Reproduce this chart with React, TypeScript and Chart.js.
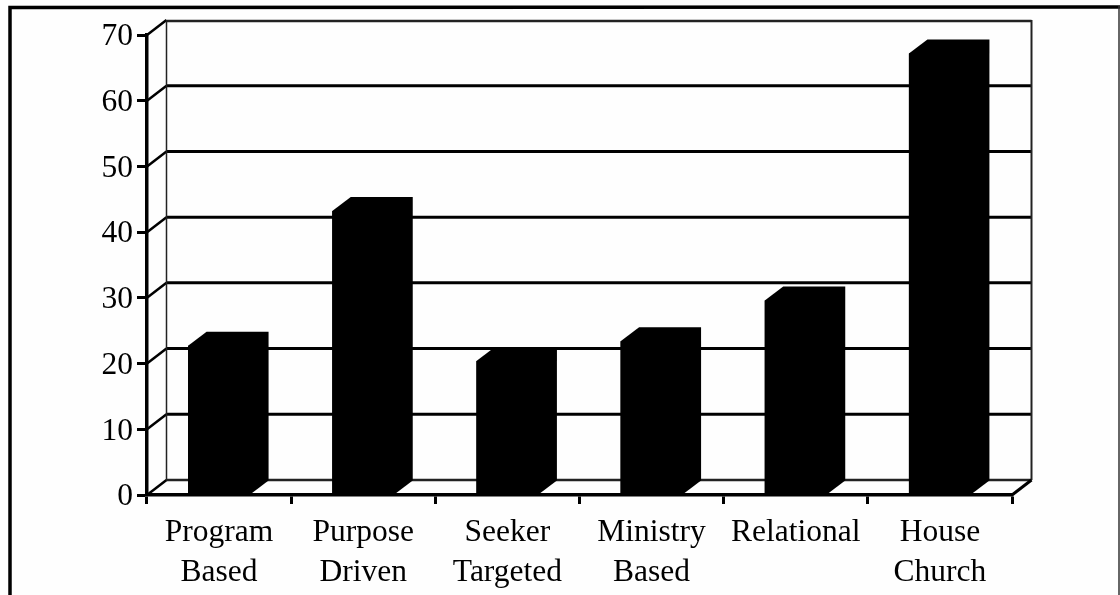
import React, { useEffect, useRef } from "react";
import { Chart, registerables } from "chart.js";

Chart.register(...registerables);

const categories: string[][] = [
  ["Program", "Based"],
  ["Purpose", "Driven"],
  ["Seeker", "Targeted"],
  ["Ministry", "Based"],
  ["Relational"],
  ["House", "Church"],
];
const values: number[] = [22.7, 43.2, 20.4, 23.4, 29.6, 67.2];
const yMin = 0;
const yMax = 70;
const yStep = 10;

const INK = "#000000";
const FONT = '"Liberation Serif", "Times New Roman", serif';
const WALL_DX = 19.5;
const WALL_DY = 15;
const BAR_DX = 18.5;
const BAR_DY = 14;

const chrome = {
  id: "chrome3d",
  beforeDraw(chart: any) {
    const { ctx, width, height, chartArea: a, scales } = chart;
    const y = scales.y;
    ctx.save();
    ctx.fillStyle = "#fefefe";
    ctx.fillRect(0, 0, width, height);

    // page frame
    ctx.strokeStyle = INK;
    ctx.lineWidth = 3.5;
    ctx.beginPath();
    ctx.moveTo(10, height);
    ctx.lineTo(10, 7.5);
    ctx.lineTo(width, 7);
    ctx.stroke();
    ctx.lineWidth = 1.5;
    ctx.strokeStyle = "#333";
    ctx.beginPath();
    ctx.moveTo(1119, 6);
    ctx.lineTo(1119, height);
    ctx.stroke();

    // back wall and floor
    const bx0 = a.left + WALL_DX;
    const bx1 = a.right + WALL_DX;
    for (let v = yMin; v <= yMax; v += yStep) {
      const py = y.getPixelForValue(v);
      const edge = v === yMin || v === yMax;
      ctx.strokeStyle = edge ? "#222" : INK;
      ctx.lineWidth = edge ? 2.5 : 3;
      ctx.beginPath();
      ctx.moveTo(bx0, py - WALL_DY + (v === yMax ? 1 : 0));
      ctx.lineTo(bx1, py - WALL_DY + (v === yMax ? 1 : 0));
      ctx.stroke();
      ctx.strokeStyle = INK;
      ctx.lineWidth = 2.5;
      ctx.beginPath();
      ctx.moveTo(a.left, py);
      ctx.lineTo(bx0, py - WALL_DY);
      ctx.stroke();
    }
    ctx.strokeStyle = "#222";
    ctx.lineWidth = 1.5;
    ctx.beginPath();
    ctx.moveTo(bx0, a.top - WALL_DY);
    ctx.lineTo(bx0, a.bottom - WALL_DY);
    ctx.stroke();
    ctx.lineWidth = 2;
    ctx.beginPath();
    ctx.moveTo(bx1, a.top - WALL_DY);
    ctx.lineTo(bx1, a.bottom - WALL_DY);
    ctx.stroke();
    ctx.strokeStyle = INK;
    ctx.lineWidth = 3;
    ctx.beginPath();
    ctx.moveTo(a.right, a.bottom);
    ctx.lineTo(bx1, a.bottom - WALL_DY);
    ctx.stroke();
    ctx.restore();
  },
  beforeDatasetsDraw(chart: any) {
    const { ctx } = chart;
    const meta = chart.getDatasetMeta(0);
    ctx.save();
    ctx.fillStyle = INK;
    meta.data.forEach((el: any) => {
      const { x, y, base, width } = el.getProps(["x", "y", "base", "width"], true);
      const l = x - width / 2;
      const r = x + width / 2;
      ctx.beginPath();
      ctx.moveTo(l, y);
      ctx.lineTo(l + BAR_DX, y - BAR_DY);
      ctx.lineTo(r + BAR_DX, y - BAR_DY);
      ctx.lineTo(r + BAR_DX, base - BAR_DY);
      ctx.lineTo(r, base);
      ctx.lineTo(l, base);
      ctx.closePath();
      ctx.fill();
    });
    ctx.restore();
  },
};

export default function App() {
  const ref = useRef<HTMLCanvasElement>(null);
  useEffect(() => {
    const chart = new Chart(ref.current as HTMLCanvasElement, {
      type: "bar",
      data: {
        labels: categories as any,
        datasets: [
          {
            data: values,
            backgroundColor: INK,
            borderWidth: 0,
            barPercentage: 0.43,
            categoryPercentage: 1,
          },
        ],
      },
      options: {
        responsive: false,
        animation: false,
        layout: { padding: { left: 0, top: 35, right: 108, bottom: 0 } },
        plugins: { legend: { display: false }, tooltip: { enabled: false } },
        scales: {
          x: {
            offset: true,
            afterFit: (s: any) => {
              s.height = 100;
            },
            grid: {
              drawOnChartArea: false,
              drawTicks: true,
              tickLength: 9,
              tickWidth: 3,
              tickColor: INK,
            },
            border: { color: INK, width: 3.5 },
            ticks: {
              color: INK,
              padding: 8,
              maxRotation: 0,
              autoSkip: false,
              font: { family: FONT, size: 31.5, lineHeight: 1.29 },
            },
          },
          y: {
            min: yMin,
            max: yMax,
            afterFit: (s: any) => {
              s.width = 147;
            },
            grid: {
              drawOnChartArea: false,
              drawTicks: true,
              tickLength: 10,
              tickWidth: 3,
              tickColor: INK,
            },
            border: { color: INK, width: 3.5 },
            ticks: {
              stepSize: yStep,
              color: INK,
              padding: 4,
              labelOffset: 2,
              font: { family: FONT, size: 31.5 },
            },
          },
        },
      },
      plugins: [chrome],
    } as any);
    return () => chart.destroy();
  }, []);
  return (
    <canvas
      ref={ref}
      width={1120}
      height={595}
      style={{ position: "fixed", left: 0, top: 0, display: "block" }}
    />
  );
}
